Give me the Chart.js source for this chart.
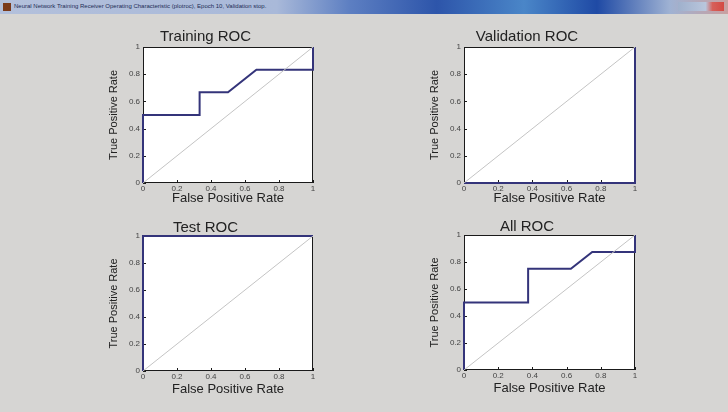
<!DOCTYPE html>
<html lang="en">
<head>
<meta charset="UTF-8">
<title>ROC</title>
<script src="https://cdn.jsdelivr.net/npm/chart.js@4.4.1/dist/chart.umd.min.js"></script>
<style>
    body { margin: 0; width: 728px; height: 412px; background: #d6d5d3; overflow: hidden; position: relative; font-family: Arial, "Liberation Sans", sans-serif; }
    .titlebar { position: absolute; left: 0; top: 0; width: 728px; height: 14px;
        background: linear-gradient(90deg, #b3c0db 0%, #a9b9d9 38%, #5d7fc2 48%, #2d55aa 60%, #4a86c8 72%, #1f4aa5 82%, #9fb2d3 92%, #c9a0a0 100%); }
    .titlebar .ico { position: absolute; left: 3px; top: 3px; width: 8px; height: 8px; background: #7a3a1a; }
    .titlebar .txt { position: absolute; left: 14px; top: 3px; font-size: 6px; color: #1d2c55; white-space: nowrap; }
    .titlebar .btns { position: absolute; right: 4px; top: 2px; width: 46px; height: 9px; background: linear-gradient(90deg, #9fb0cc 0%, #b9c6dc 60%, #d6605a 75%, #d34a44 100%); }
    .box { position: absolute; }
</style>
</head>
<body>
<div class="titlebar">
    <div class="ico"></div>
    <div class="txt">Neural Network Training Receiver Operating Characteristic (plotroc), Epoch 10, Validation stop.</div>
    <div class="btns"></div>
</div>
<div class="box" id="b1"><canvas id="c1"></canvas></div>
<div class="box" id="b2"><canvas id="c2"></canvas></div>
<div class="box" id="b3"><canvas id="c3"></canvas></div>
<div class="box" id="b4"><canvas id="c4"></canvas></div>
<script>
// ROC curves (false positive rate / true positive rate)
var trainFpr = [0, 0, 0.333, 0.333, 0.5, 0.667, 1, 1];
var trainTpr = [0, 0.5, 0.5, 0.667, 0.667, 0.833, 0.833, 1];
var valFpr = [0, 1, 1];
var valTpr = [0, 0, 1];
var testFpr = [0, 0, 1];
var testTpr = [0, 1, 1];
var allFpr = [0, 0, 0.375, 0.375, 0.625, 0.75, 1, 1];
var allTpr = [0, 0.5, 0.5, 0.75, 0.75, 0.875, 0.875, 1];
var diagFpr = [0, 1];
var diagTpr = [0, 1];
var tickVals = [0, 0.2, 0.4, 0.6, 0.8, 1];

// plot insets inside each canvas
var INSET = { l: 45, t: 28, r: 15, b: 30 };
var FONT = 'Arial, "Liberation Sans", sans-serif';

function pts(xs, ys) {
    return xs.map(function (x, i) { return { x: x, y: ys[i] }; });
}

function tickLabel(v) {
    if (v === 0 || v === 1) return String(v);
    return v.toFixed(1);
}

var boxPlugin = {
    id: 'matlabBox',
    beforeDatasetsDraw: function (chart) {
        var a = chart.chartArea, ctx = chart.ctx;
        ctx.save();
        ctx.fillStyle = '#ffffff';
        ctx.fillRect(a.left, a.top, a.right - a.left, a.bottom - a.top);
        ctx.strokeStyle = '#1a1a1a';
        ctx.lineWidth = 1;
        ctx.strokeRect(a.left + 0.5, a.top + 0.5, a.right - a.left - 1, a.bottom - a.top - 1);
        // small inward ticks like MATLAB
        var xs = chart.scales.x, ys = chart.scales.y;
        ctx.beginPath();
        tickVals.forEach(function (v) {
            var px = Math.round(xs.getPixelForValue(v)) + 0.5;
            ctx.moveTo(px, a.bottom); ctx.lineTo(px, a.bottom - 3);
            var py = Math.round(ys.getPixelForValue(v)) + 0.5;
            ctx.moveTo(a.left, py); ctx.lineTo(a.left + 3, py);
        });
        ctx.stroke();
        ctx.restore();
    }
};

function makeRoc(n, title, fpr, tpr, plot) {
    var box = document.getElementById('b' + n);
    var w = plot.r - plot.l + INSET.l + INSET.r;
    var h = plot.b - plot.t + INSET.t + INSET.b;
    box.style.left = (plot.l - INSET.l) + 'px';
    box.style.top = (plot.t - INSET.t) + 'px';
    box.style.width = w + 'px';
    box.style.height = h + 'px';

    var tickFont = { family: FONT, size: 8 };

    new Chart(document.getElementById('c' + n), {
        type: 'scatter',
        data: {
            datasets: [{
                data: pts(diagFpr, diagTpr),
                showLine: true,
                borderColor: '#c4c4c4',
                borderWidth: 1,
                pointRadius: 0
            }, {
                data: pts(fpr, tpr),
                showLine: true,
                borderColor: '#34347a',
                borderWidth: 2,
                pointRadius: 0,
                clip: 2
            }]
        },
        options: {
            responsive: true,
            maintainAspectRatio: false,
            animation: false,
            layout: { padding: { left: 0, top: 0, right: INSET.r, bottom: 0 } },
            plugins: {
                legend: { display: false },
                tooltip: { enabled: false },
                title: {
                    display: true,
                    text: title,
                    color: '#222',
                    font: { family: FONT, size: 15, weight: 'normal', lineHeight: 1 },
                    padding: { top: INSET.t - 10 - 8 + plot.tg, bottom: 3 - plot.tg }
                }
            },
            scales: {
                x: {
                    type: 'linear', min: 0, max: 1,
                    grid: { display: false, drawTicks: false },
                    border: { display: false },
                    afterBuildTicks: function (s) { s.ticks = tickVals.map(function (v) { return { value: v }; }); },
                    ticks: { font: tickFont, color: '#444', padding: 1, maxRotation: 0, callback: tickLabel },
                    title: { display: true, text: 'False Positive Rate', color: '#222', font: { family: FONT, size: 13, lineHeight: 1.2 }, padding: { top: 0, bottom: 7 - plot.xg } },
                    afterFit: function (s) { s.height = INSET.b; }
                },
                y: {
                    type: 'linear', min: 0, max: 1,
                    grid: { display: false, drawTicks: false },
                    border: { display: false },
                    afterBuildTicks: function (s) { s.ticks = tickVals.map(function (v) { return { value: v }; }); },
                    ticks: { font: tickFont, color: '#444', padding: 3, callback: tickLabel },
                    title: { display: true, text: 'True Positive Rate', color: '#222', font: { family: FONT, size: 11, lineHeight: 1.2 }, padding: { top: 9, bottom: 0 } },
                    afterFit: function (s) { s.width = INSET.l; }
                }
            }
        },
        plugins: [boxPlugin]
    });
}

makeRoc(1, 'Training ROC', trainFpr, trainTpr, { l: 143, t: 47, r: 313, b: 183, tg: 0, xg: 0 });
makeRoc(2, 'Validation ROC', valFpr, valTpr, { l: 464, t: 47, r: 635, b: 183, tg: 0, xg: 0 });
makeRoc(3, 'Test ROC', testFpr, testTpr, { l: 143, t: 236, r: 313, b: 371, tg: 2, xg: 3 });
makeRoc(4, 'All ROC', allFpr, allTpr, { l: 464, t: 235, r: 635, b: 370, tg: 2, xg: 3 });
</script>
</body>
</html>
